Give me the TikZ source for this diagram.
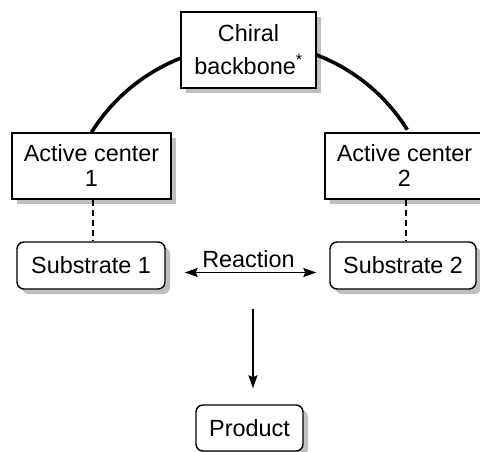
\documentclass[tikz,border=0pt]{standalone}
\usepackage{fontspec}
\setmainfont{Liberation Sans}
\usetikzlibrary{shadows,arrows.meta}
\begin{document}
\begin{tikzpicture}[x=1pt,y=-1pt,
  every node/.style={font=\fontsize{23.4}{25}\selectfont, inner sep=0pt},
  box/.style={draw, line width=1.4pt, fill=white, align=center,
    drop shadow={shadow xshift=5pt, shadow yshift=-5pt, fill=black!25, opacity=1}},
  rbox/.style={box, rounded corners=7pt},
  arr/.style={line width=1.6pt, -{Stealth[length=13pt,width=9pt,inset=2pt]}},
  darr/.style={line width=1.6pt, {Stealth[length=13pt,width=9pt,inset=2pt]}-{Stealth[length=13pt,width=9pt,inset=2pt]}}
]
\useasboundingbox (0,0) rectangle (480,451);
\coordinate (cc) at (248,230);
% arc behind chiral box
\node[box, minimum width=159pt, minimum height=66pt] (ac1) at (91.5,166) {Active center\\1};
\node[box, minimum width=159pt, minimum height=66pt] (ac2) at (404.5,166) {Active center\\2};
\draw[line width=3.6pt] (ac1.north) arc[start angle=-148, end angle=-111, radius=185];
\node[box, minimum width=135pt, minimum height=76pt] (chiral) at (248.5,50) {Chiral\\[8pt]backbone\textsuperscript{*}};
\draw[line width=3.6pt] (chiral.east) ++(0,5) arc[start angle=-69, end angle=-32, radius=185] coordinate (e2);
\node[rbox, minimum width=148pt, minimum height=47pt] (sub1) at (91,265.5) {Substrate 1};
\node[rbox, minimum width=146pt, minimum height=47pt] (sub2) at (403,265.5) {Substrate 2};
\node[rbox, minimum width=107pt, minimum height=46pt] (prod) at (249.5,428) {Product};
\draw[line width=1.2pt, dash pattern=on 6pt off 4pt] ([xshift=1.5pt]ac1.south) -- ([xshift=1.5pt]ac1.south |- sub1.north);
\draw[line width=1.2pt, dash pattern=on 6pt off 4pt] ([xshift=1.5pt]ac2.south) -- ([xshift=1.5pt]ac2.south |- sub2.north);
\draw[darr, shorten <=19pt, shorten >=13pt] ([yshift=-7pt]sub1.east) -- ([yshift=-7pt]sub2.west) node[midway, above=4pt, xshift=1pt] (rx) {Reaction};
\coordinate (top) at (253,309);
\draw[arr, shorten >=16pt] (top) -- (top |- prod.north);
\end{tikzpicture}
\end{document}
